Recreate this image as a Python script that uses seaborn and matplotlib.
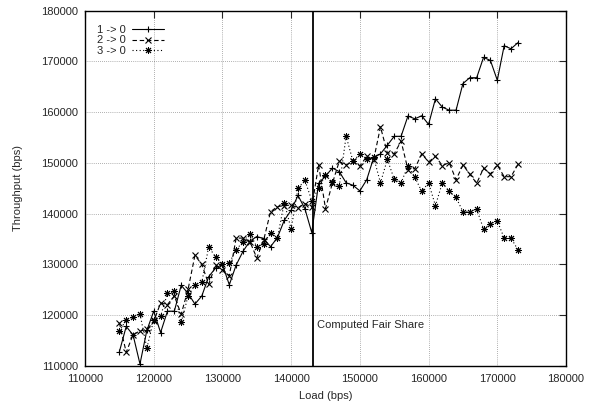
import numpy as np
import pandas as pd
import matplotlib
matplotlib.use("Agg")
import matplotlib.pyplot as plt
import seaborn as sns

# ---- data -------------------------------------------------------------
load = list(range(115000, 174000, 1000))

flow_1_0 = [112800, 117800, 116100, 110400, 117000, 120800, 116600, 120800, 120800, 125900,
            124300, 122200, 123800, 127600, 129300, 130000, 126000, 129900, 132600, 134600,
            135500, 135100, 133500, 135300, 138700, 140700, 143600, 141000, 136300, 146000,
            147400, 149000, 148300, 146100, 145600, 144500, 146700, 151000, 151800, 153500,
            155250, 155250, 159250, 158700, 159300, 157600, 162650, 161000, 160400, 160400,
            165650, 166800, 166800, 170800, 170200, 166300, 173100, 172500, 173700]

flow_2_0 = [118500, 112700, 116200, 116900, 117200, 118800, 122400, 122100, 123800, 120200,
            125100, 131800, 130000, 126100, 129900, 129000, 127800, 135200, 135200, 134500,
            131300, 134800, 140400, 141400, 141600, 141700, 141200, 142000, 141300, 149600,
            141000, 146000, 150300, 149600, 150300, 149400, 151300, 150600, 157100, 152000,
            151800, 154300, 148700, 148900, 151800, 150200, 151300, 149500, 150050, 146700,
            149600, 147800, 146000, 148950, 147850, 149600, 147300, 147300, 149700]

flow_3_0 = [116850, 119100, 119700, 120300, 113500, 119100, 119800, 124300, 124700, 118600,
            123800, 126000, 126500, 133450, 131500, 130050, 130300, 132900, 134500, 136100,
            133500, 134000, 136300, 135200, 142200, 137000, 145000, 146600, 142600, 145000,
            147600, 146200, 145400, 155300, 150300, 151800, 150800, 151100, 146100, 150700,
            146800, 146100, 149400, 147200, 144400, 146100, 141600, 146100, 144400, 143200,
            140400, 140400, 140900, 137000, 138000, 138600, 135200, 135200, 132900]

series_names = ["1 -> 0", "2 -> 0", "3 -> 0"]
fair_share = 143200
x_ticks = [110000, 120000, 130000, 140000, 150000, 160000, 170000, 180000]
y_ticks = [110000, 120000, 130000, 140000, 150000, 160000, 170000, 180000]

df = pd.DataFrame({
    "load": load * 3,
    "throughput": flow_1_0 + flow_2_0 + flow_3_0,
    "flow": [series_names[0]] * len(load) + [series_names[1]] * len(load) + [series_names[2]] * len(load),
})

# ---- style ------------------------------------------------------------
sns.set_style("white")
plt.rcParams["font.family"] = ["Liberation Sans", "DejaVu Sans"]
plt.rcParams["font.size"] = 8

fig = plt.figure(figsize=(5.95, 4.03), dpi=100)
ax = fig.add_axes([85 / 595, 1 - 366 / 403, (566 - 85) / 595, (366 - 10.7) / 403])

styles = {
    series_names[0]: dict(linestyle="-", marker="+", markersize=5, markeredgewidth=0.8),
    series_names[1]: dict(linestyle=(0, (4, 2.5)), marker="x", markersize=4, markeredgewidth=0.8),
    series_names[2]: dict(linestyle=(0, (1, 2.2)), marker=(8, 2, 0), markersize=5, markeredgewidth=0.7),
}

for name in series_names:
    sub = df[df["flow"] == name]
    sns.lineplot(data=sub, x="load", y="throughput", ax=ax, color="black",
                 linewidth=0.8, label=name, markeredgecolor="black",
                 **styles[name])

ax.axvline(fair_share, color="black", linewidth=1.3)
ax.text(fair_share + 500, 118000, "Computed Fair Share", fontsize=8, va="center", ha="left")

ax.set_xlim(110000, 180000)
ax.set_ylim(110000, 180000)
ax.set_xticks(x_ticks)
ax.set_yticks(y_ticks)
ax.grid(True, color="black", linestyle=(0, (1, 2)), linewidth=0.5, alpha=0.6)
ax.tick_params(direction="in", top=True, right=True, length=5, width=0.8, labelsize=8)
ax.tick_params(axis="x", pad=6)
ax.tick_params(axis="y", pad=5)
for s in ax.spines.values():
    s.set_color("black")
    s.set_linewidth(1.0)

ax.set_xlabel("Load (bps)", fontsize=8, labelpad=5)
ax.set_ylabel("Throughput (bps)", fontsize=8, labelpad=13)

leg = ax.legend(loc="upper left", markerfirst=False, frameon=False, fontsize=8,
                handlelength=2.8, handletextpad=0.6, labelspacing=0.05,
                borderaxespad=0.0, borderpad=0.0, bbox_to_anchor=(0.025, 0.96))

fig.savefig("out.png", dpi=100)
